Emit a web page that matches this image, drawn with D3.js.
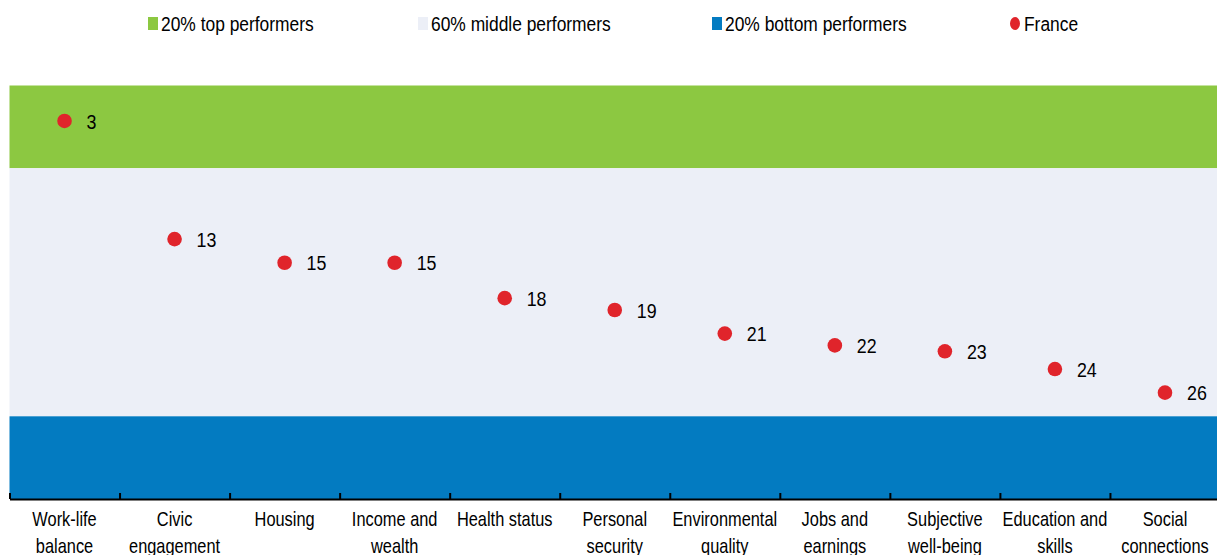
<!DOCTYPE html>
<html>
<head>
<meta charset="utf-8">
<script src="https://cdn.jsdelivr.net/npm/d3@7"></script>
<style>
    body { margin: 0; background: #fff; }
    text { font-family: "Liberation Sans Narrow", "Arial Narrow", "Liberation Sans", sans-serif; fill: #000; }
</style>
</head>
<body>
<svg id="chart" width="1217" height="555"></svg>
<script>
// Dimensions (rank categories)
const categories = [
    "Work-life balance",
    "Civic engagement",
    "Housing",
    "Income and wealth",
    "Health status",
    "Personal security",
    "Environmental quality",
    "Jobs and earnings",
    "Subjective well-being",
    "Education and skills",
    "Social connections",
];
// label lines for the x axis
const categoryLines = [
    ["Work-life", "balance"],
    ["Civic", "engagement"],
    ["Housing"],
    ["Income and", "wealth"],
    ["Health status"],
    ["Personal", "security"],
    ["Environmental", "quality"],
    ["Jobs and", "earnings"],
    ["Subjective", "well-being"],
    ["Education and", "skills"],
    ["Social", "connections"],
];
// France rank shown in label, and the plotted position (ties pull a bit)
const franceRanks = [3, 13, 15, 15, 18, 19, 21, 22, 23, 24, 26];
const francePositions = [3, 13, 15, 15, 18, 19, 21, 22, 22.5, 24, 26];

// Performance bands (rank ranges)
const bandNames = ["20% top performers", "60% middle performers", "20% bottom performers"];
const bandStarts = [0, 7, 28];
const bandEnds = [7, 28, 35];
const bandColors = ["#8cc841", "#eceff7", "#037bc1"];
const dotColor = "#e0242b";

// no narrow font installed: squeeze the regular one horizontally
const narrow = 0.82;

const svg = d3.select("#chart");
const margin = { left: 9.5, right: -3, top: 85.5, bottom: 499 };

// Scales
const x = d3.scaleBand()
    .domain(categories)
    .range([margin.left, 1217 - margin.right])
    .padding(0);

const y = d3.scaleLinear()
    .domain([0, 35])
    .range([margin.top, margin.bottom]);

// Background bands
svg.append("g")
    .selectAll("rect")
    .data(bandNames)
    .enter()
    .append("rect")
    .attr("x", margin.left)
    .attr("width", 1217 - margin.left)
    .attr("y", (d, i) => y(bandStarts[i]))
    .attr("height", (d, i) => y(bandEnds[i]) - y(bandStarts[i]))
    .attr("fill", (d, i) => bandColors[i]);

// Axis with ticks at category boundaries (pointing up)
const boundary = d3.scaleLinear()
    .domain([0, categories.length])
    .range(x.range());

const axis = svg.append("g")
    .attr("transform", `translate(0, ${margin.bottom})`)
    .call(
        d3.axisBottom(boundary)
            .tickValues(d3.range(categories.length))
            .tickSizeInner(-6)
            .tickSizeOuter(0)
            .tickFormat("")
    );
axis.select(".domain").attr("stroke", "#000").attr("stroke-width", 2);
axis.selectAll(".tick line").attr("stroke", "#000").attr("stroke-width", 2);

// Category labels
const labels = svg.append("g")
    .selectAll("text")
    .data(categories)
    .enter()
    .append("text")
    .attr("text-anchor", "middle")
    .attr("transform", (d) => `translate(${x(d) + x.bandwidth() / 2}, 0) scale(${narrow}, 1)`)
    .style("font-size", "20px");

labels.each(function (d, i) {
    d3.select(this)
        .selectAll("tspan")
        .data(categoryLines[i])
        .enter()
        .append("tspan")
        .attr("x", 0)
        .attr("y", (t, j) => 526 + j * 27)
        .text((t) => t);
});

// France dots
const cxOf = (i) => x(categories[i]) + x.bandwidth() / 2;

svg.append("g")
    .selectAll("circle")
    .data(francePositions)
    .enter()
    .append("circle")
    .attr("cx", (d, i) => cxOf(i))
    .attr("cy", (d) => y(d))
    .attr("r", 7.3)
    .attr("fill", dotColor);

svg.append("g")
    .selectAll("text")
    .data(francePositions)
    .enter()
    .append("text")
    .attr("transform", (d, i) => `translate(${cxOf(i) + 22}, ${y(d)}) scale(0.85, 1)`)
    .attr("dy", "0.36em")
    .style("font-size", "21px")
    .text((d, i) => franceRanks[i]);

// Legend
const legendX = [148, 418, 712];
const legend = svg.append("g");

legend.selectAll("rect")
    .data(bandNames)
    .enter()
    .append("rect")
    .attr("x", (d, i) => legendX[i])
    .attr("y", 17)
    .attr("width", 10)
    .attr("height", 13)
    .attr("fill", (d, i) => bandColors[i]);

legend.selectAll("text.band")
    .data(bandNames)
    .enter()
    .append("text")
    .attr("class", "band")
    .attr("transform", (d, i) => `translate(${legendX[i] + 13}, 24) scale(0.87, 1)`)
    .attr("dy", "0.36em")
    .style("font-size", "20px")
    .text((d) => d);

legend.append("ellipse")
    .attr("cx", 1015)
    .attr("cy", 23.5)
    .attr("rx", 5)
    .attr("ry", 6.5)
    .attr("fill", dotColor);

legend.append("text")
    .attr("transform", "translate(1024, 24) scale(0.87, 1)")
    .attr("dy", "0.36em")
    .style("font-size", "20px")
    .text("France");
</script>
</body>
</html>
